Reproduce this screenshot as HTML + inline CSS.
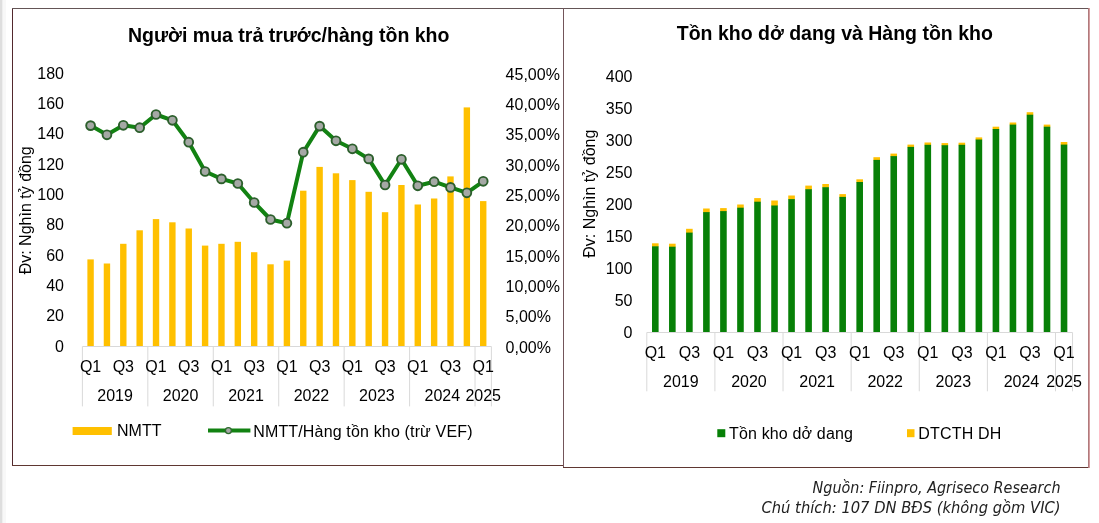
<!DOCTYPE html>
<html><head><meta charset="utf-8"><title>Charts</title>
<style>html,body{margin:0;padding:0;background:#fff;width:1099px;height:523px;overflow:hidden}</style>
</head><body>
<svg width="1099" height="523" viewBox="0 0 1099 523" style="position:absolute;left:0;top:0;will-change:transform">
<rect x="0" y="0" width="2" height="523" fill="#dedede"/>
<rect x="2" y="0" width="1" height="523" fill="#efefef"/>
<rect x="3" y="0" width="3" height="523" fill="#f8f8f8"/>
<rect x="87.38" y="259.40" width="6.4" height="86.60" fill="#FFC000"/>
<rect x="103.74" y="263.50" width="6.4" height="82.50" fill="#FFC000"/>
<rect x="120.10" y="243.80" width="6.4" height="102.20" fill="#FFC000"/>
<rect x="136.46" y="230.30" width="6.4" height="115.70" fill="#FFC000"/>
<rect x="152.82" y="219.10" width="6.4" height="126.90" fill="#FFC000"/>
<rect x="169.18" y="222.30" width="6.4" height="123.70" fill="#FFC000"/>
<rect x="185.54" y="228.50" width="6.4" height="117.50" fill="#FFC000"/>
<rect x="201.90" y="245.60" width="6.4" height="100.40" fill="#FFC000"/>
<rect x="218.26" y="243.80" width="6.4" height="102.20" fill="#FFC000"/>
<rect x="234.62" y="241.80" width="6.4" height="104.20" fill="#FFC000"/>
<rect x="250.98" y="252.20" width="6.4" height="93.80" fill="#FFC000"/>
<rect x="267.34" y="264.30" width="6.4" height="81.70" fill="#FFC000"/>
<rect x="283.70" y="260.60" width="6.4" height="85.40" fill="#FFC000"/>
<rect x="300.06" y="190.70" width="6.4" height="155.30" fill="#FFC000"/>
<rect x="316.42" y="166.90" width="6.4" height="179.10" fill="#FFC000"/>
<rect x="332.78" y="173.30" width="6.4" height="172.70" fill="#FFC000"/>
<rect x="349.14" y="180.10" width="6.4" height="165.90" fill="#FFC000"/>
<rect x="365.50" y="191.80" width="6.4" height="154.20" fill="#FFC000"/>
<rect x="381.86" y="212.20" width="6.4" height="133.80" fill="#FFC000"/>
<rect x="398.22" y="185.00" width="6.4" height="161.00" fill="#FFC000"/>
<rect x="414.58" y="204.50" width="6.4" height="141.50" fill="#FFC000"/>
<rect x="430.94" y="198.50" width="6.4" height="147.50" fill="#FFC000"/>
<rect x="447.30" y="176.40" width="6.4" height="169.60" fill="#FFC000"/>
<rect x="463.66" y="107.40" width="6.4" height="238.60" fill="#FFC000"/>
<rect x="480.02" y="201.10" width="6.4" height="144.90" fill="#FFC000"/>
<line x1="82.4" y1="346.5" x2="491.40" y2="346.5" stroke="#d9d9d9" stroke-width="1"/>
<line x1="82.40" y1="346.5" x2="82.40" y2="406.4" stroke="#d9d9d9" stroke-width="1"/>
<line x1="147.84" y1="346.5" x2="147.84" y2="406.4" stroke="#d9d9d9" stroke-width="1"/>
<line x1="213.28" y1="346.5" x2="213.28" y2="406.4" stroke="#d9d9d9" stroke-width="1"/>
<line x1="278.72" y1="346.5" x2="278.72" y2="406.4" stroke="#d9d9d9" stroke-width="1"/>
<line x1="344.16" y1="346.5" x2="344.16" y2="406.4" stroke="#d9d9d9" stroke-width="1"/>
<line x1="409.60" y1="346.5" x2="409.60" y2="406.4" stroke="#d9d9d9" stroke-width="1"/>
<line x1="475.04" y1="346.5" x2="475.04" y2="406.4" stroke="#d9d9d9" stroke-width="1"/>
<line x1="491.40" y1="346.5" x2="491.40" y2="406.4" stroke="#d9d9d9" stroke-width="1"/>
<polyline points="90.58,125.60 106.94,134.80 123.30,125.30 139.66,127.70 156.02,114.50 172.38,120.30 188.74,142.20 205.10,171.50 221.46,178.90 237.82,183.50 254.18,202.50 270.54,219.50 286.90,223.20 303.26,152.20 319.62,126.10 335.98,140.80 352.34,148.80 368.70,158.90 385.06,185.00 401.42,159.30 417.78,185.80 434.14,181.70 450.50,187.40 466.86,192.80 483.22,181.30" fill="none" stroke="#128212" stroke-width="4" stroke-linejoin="round"/>
<circle cx="90.58" cy="125.60" r="4.4" fill="#a5a8a5" stroke="#2c5f2c" stroke-width="1.9"/>
<circle cx="106.94" cy="134.80" r="4.4" fill="#a5a8a5" stroke="#2c5f2c" stroke-width="1.9"/>
<circle cx="123.30" cy="125.30" r="4.4" fill="#a5a8a5" stroke="#2c5f2c" stroke-width="1.9"/>
<circle cx="139.66" cy="127.70" r="4.4" fill="#a5a8a5" stroke="#2c5f2c" stroke-width="1.9"/>
<circle cx="156.02" cy="114.50" r="4.4" fill="#a5a8a5" stroke="#2c5f2c" stroke-width="1.9"/>
<circle cx="172.38" cy="120.30" r="4.4" fill="#a5a8a5" stroke="#2c5f2c" stroke-width="1.9"/>
<circle cx="188.74" cy="142.20" r="4.4" fill="#a5a8a5" stroke="#2c5f2c" stroke-width="1.9"/>
<circle cx="205.10" cy="171.50" r="4.4" fill="#a5a8a5" stroke="#2c5f2c" stroke-width="1.9"/>
<circle cx="221.46" cy="178.90" r="4.4" fill="#a5a8a5" stroke="#2c5f2c" stroke-width="1.9"/>
<circle cx="237.82" cy="183.50" r="4.4" fill="#a5a8a5" stroke="#2c5f2c" stroke-width="1.9"/>
<circle cx="254.18" cy="202.50" r="4.4" fill="#a5a8a5" stroke="#2c5f2c" stroke-width="1.9"/>
<circle cx="270.54" cy="219.50" r="4.4" fill="#a5a8a5" stroke="#2c5f2c" stroke-width="1.9"/>
<circle cx="286.90" cy="223.20" r="4.4" fill="#a5a8a5" stroke="#2c5f2c" stroke-width="1.9"/>
<circle cx="303.26" cy="152.20" r="4.4" fill="#a5a8a5" stroke="#2c5f2c" stroke-width="1.9"/>
<circle cx="319.62" cy="126.10" r="4.4" fill="#a5a8a5" stroke="#2c5f2c" stroke-width="1.9"/>
<circle cx="335.98" cy="140.80" r="4.4" fill="#a5a8a5" stroke="#2c5f2c" stroke-width="1.9"/>
<circle cx="352.34" cy="148.80" r="4.4" fill="#a5a8a5" stroke="#2c5f2c" stroke-width="1.9"/>
<circle cx="368.70" cy="158.90" r="4.4" fill="#a5a8a5" stroke="#2c5f2c" stroke-width="1.9"/>
<circle cx="385.06" cy="185.00" r="4.4" fill="#a5a8a5" stroke="#2c5f2c" stroke-width="1.9"/>
<circle cx="401.42" cy="159.30" r="4.4" fill="#a5a8a5" stroke="#2c5f2c" stroke-width="1.9"/>
<circle cx="417.78" cy="185.80" r="4.4" fill="#a5a8a5" stroke="#2c5f2c" stroke-width="1.9"/>
<circle cx="434.14" cy="181.70" r="4.4" fill="#a5a8a5" stroke="#2c5f2c" stroke-width="1.9"/>
<circle cx="450.50" cy="187.40" r="4.4" fill="#a5a8a5" stroke="#2c5f2c" stroke-width="1.9"/>
<circle cx="466.86" cy="192.80" r="4.4" fill="#a5a8a5" stroke="#2c5f2c" stroke-width="1.9"/>
<circle cx="483.22" cy="181.30" r="4.4" fill="#a5a8a5" stroke="#2c5f2c" stroke-width="1.9"/>
<g font-family="'Liberation Sans', Arial, sans-serif" font-size="16" fill="#000">
<text x="64" y="351.80" text-anchor="end">0</text>
<text x="64" y="321.46" text-anchor="end">20</text>
<text x="64" y="291.12" text-anchor="end">40</text>
<text x="64" y="260.78" text-anchor="end">60</text>
<text x="64" y="230.44" text-anchor="end">80</text>
<text x="64" y="200.10" text-anchor="end">100</text>
<text x="64" y="169.76" text-anchor="end">120</text>
<text x="64" y="139.42" text-anchor="end">140</text>
<text x="64" y="109.08" text-anchor="end">160</text>
<text x="64" y="78.74" text-anchor="end">180</text>
<text x="505.6" y="352.60">0,00%</text>
<text x="505.6" y="322.26">5,00%</text>
<text x="505.6" y="291.92">10,00%</text>
<text x="505.6" y="261.58">15,00%</text>
<text x="505.6" y="231.24">20,00%</text>
<text x="505.6" y="200.90">25,00%</text>
<text x="505.6" y="170.56">30,00%</text>
<text x="505.6" y="140.22">35,00%</text>
<text x="505.6" y="109.88">40,00%</text>
<text x="505.6" y="79.54">45,00%</text>
<text x="90.58" y="371.7" text-anchor="middle">Q1</text>
<text x="123.30" y="371.7" text-anchor="middle">Q3</text>
<text x="156.02" y="371.7" text-anchor="middle">Q1</text>
<text x="188.74" y="371.7" text-anchor="middle">Q3</text>
<text x="221.46" y="371.7" text-anchor="middle">Q1</text>
<text x="254.18" y="371.7" text-anchor="middle">Q3</text>
<text x="286.90" y="371.7" text-anchor="middle">Q1</text>
<text x="319.62" y="371.7" text-anchor="middle">Q3</text>
<text x="352.34" y="371.7" text-anchor="middle">Q1</text>
<text x="385.06" y="371.7" text-anchor="middle">Q3</text>
<text x="417.78" y="371.7" text-anchor="middle">Q1</text>
<text x="450.50" y="371.7" text-anchor="middle">Q3</text>
<text x="483.22" y="371.7" text-anchor="middle">Q1</text>
<text x="115.12" y="400.6" text-anchor="middle">2019</text>
<text x="180.56" y="400.6" text-anchor="middle">2020</text>
<text x="246.00" y="400.6" text-anchor="middle">2021</text>
<text x="311.44" y="400.6" text-anchor="middle">2022</text>
<text x="376.88" y="400.6" text-anchor="middle">2023</text>
<text x="442.32" y="400.6" text-anchor="middle">2024</text>
<text x="483.22" y="400.6" text-anchor="middle">2025</text>
<text transform="translate(31.2,210.3) rotate(-90)" text-anchor="middle">Đv: Nghìn tỷ đồng</text>
<rect x="72.6" y="427" width="39.2" height="8" fill="#FFC000"/>
<text x="117" y="436.3">NMTT</text>
<line x1="208" y1="430.6" x2="250.4" y2="430.6" stroke="#128212" stroke-width="4"/>
<circle cx="228.4" cy="430.6" r="3" fill="#a6a6a6" stroke="#2e6a2e" stroke-width="1.4"/>
<text x="253.2" y="436.6" textLength="219.3" lengthAdjust="spacing">NMTT/Hàng tồn kho (trừ VEF)</text>
</g>
<text x="288.7" y="41.6" text-anchor="middle" font-family="'Liberation Sans', Arial, sans-serif" font-size="19.5" font-weight="bold">Người mua trả trước/hàng tồn kho</text>
<rect x="652.01" y="243.30" width="6.6" height="3.50" fill="#FFC000"/>
<rect x="652.01" y="246.30" width="6.6" height="85.70" fill="#078007"/>
<rect x="669.04" y="243.70" width="6.6" height="3.50" fill="#FFC000"/>
<rect x="669.04" y="246.70" width="6.6" height="85.30" fill="#078007"/>
<rect x="686.08" y="228.80" width="6.6" height="4.30" fill="#FFC000"/>
<rect x="686.08" y="232.60" width="6.6" height="99.40" fill="#078007"/>
<rect x="703.11" y="208.50" width="6.6" height="4.10" fill="#FFC000"/>
<rect x="703.11" y="212.10" width="6.6" height="119.90" fill="#078007"/>
<rect x="720.13" y="208.10" width="6.6" height="3.50" fill="#FFC000"/>
<rect x="720.13" y="211.10" width="6.6" height="120.90" fill="#078007"/>
<rect x="737.16" y="204.50" width="6.6" height="3.70" fill="#FFC000"/>
<rect x="737.16" y="207.70" width="6.6" height="124.30" fill="#078007"/>
<rect x="754.20" y="198.10" width="6.6" height="4.10" fill="#FFC000"/>
<rect x="754.20" y="201.70" width="6.6" height="130.30" fill="#078007"/>
<rect x="771.23" y="200.50" width="6.6" height="5.50" fill="#FFC000"/>
<rect x="771.23" y="205.50" width="6.6" height="126.50" fill="#078007"/>
<rect x="788.25" y="195.50" width="6.6" height="4.10" fill="#FFC000"/>
<rect x="788.25" y="199.10" width="6.6" height="132.90" fill="#078007"/>
<rect x="805.29" y="185.60" width="6.6" height="4.10" fill="#FFC000"/>
<rect x="805.29" y="189.20" width="6.6" height="142.80" fill="#078007"/>
<rect x="822.32" y="184.00" width="6.6" height="3.70" fill="#FFC000"/>
<rect x="822.32" y="187.20" width="6.6" height="144.80" fill="#078007"/>
<rect x="839.35" y="194.10" width="6.6" height="3.30" fill="#FFC000"/>
<rect x="839.35" y="196.90" width="6.6" height="135.10" fill="#078007"/>
<rect x="856.38" y="179.30" width="6.6" height="3.20" fill="#FFC000"/>
<rect x="856.38" y="182.00" width="6.6" height="150.00" fill="#078007"/>
<rect x="873.40" y="157.20" width="6.6" height="3.20" fill="#FFC000"/>
<rect x="873.40" y="159.90" width="6.6" height="172.10" fill="#078007"/>
<rect x="890.43" y="153.60" width="6.6" height="3.00" fill="#FFC000"/>
<rect x="890.43" y="156.10" width="6.6" height="175.90" fill="#078007"/>
<rect x="907.47" y="144.60" width="6.6" height="2.80" fill="#FFC000"/>
<rect x="907.47" y="146.90" width="6.6" height="185.10" fill="#078007"/>
<rect x="924.50" y="142.50" width="6.6" height="2.80" fill="#FFC000"/>
<rect x="924.50" y="144.80" width="6.6" height="187.20" fill="#078007"/>
<rect x="941.53" y="143.10" width="6.6" height="2.60" fill="#FFC000"/>
<rect x="941.53" y="145.20" width="6.6" height="186.80" fill="#078007"/>
<rect x="958.56" y="142.70" width="6.6" height="2.60" fill="#FFC000"/>
<rect x="958.56" y="144.80" width="6.6" height="187.20" fill="#078007"/>
<rect x="975.59" y="137.40" width="6.6" height="2.60" fill="#FFC000"/>
<rect x="975.59" y="139.50" width="6.6" height="192.50" fill="#078007"/>
<rect x="992.62" y="126.70" width="6.6" height="2.80" fill="#FFC000"/>
<rect x="992.62" y="129.00" width="6.6" height="203.00" fill="#078007"/>
<rect x="1009.64" y="122.50" width="6.6" height="2.60" fill="#FFC000"/>
<rect x="1009.64" y="124.60" width="6.6" height="207.40" fill="#078007"/>
<rect x="1026.67" y="112.20" width="6.6" height="3.00" fill="#FFC000"/>
<rect x="1026.67" y="114.70" width="6.6" height="217.30" fill="#078007"/>
<rect x="1043.71" y="124.60" width="6.6" height="2.60" fill="#FFC000"/>
<rect x="1043.71" y="126.70" width="6.6" height="205.30" fill="#078007"/>
<rect x="1060.73" y="142.00" width="6.6" height="3.10" fill="#FFC000"/>
<rect x="1060.73" y="144.60" width="6.6" height="187.40" fill="#078007"/>
<line x1="646.8" y1="332.5" x2="1072.55" y2="332.5" stroke="#d9d9d9" stroke-width="1"/>
<line x1="646.80" y1="332.5" x2="646.80" y2="391.3" stroke="#d9d9d9" stroke-width="1"/>
<line x1="714.92" y1="332.5" x2="714.92" y2="391.3" stroke="#d9d9d9" stroke-width="1"/>
<line x1="783.04" y1="332.5" x2="783.04" y2="391.3" stroke="#d9d9d9" stroke-width="1"/>
<line x1="851.16" y1="332.5" x2="851.16" y2="391.3" stroke="#d9d9d9" stroke-width="1"/>
<line x1="919.28" y1="332.5" x2="919.28" y2="391.3" stroke="#d9d9d9" stroke-width="1"/>
<line x1="987.40" y1="332.5" x2="987.40" y2="391.3" stroke="#d9d9d9" stroke-width="1"/>
<line x1="1055.52" y1="332.5" x2="1055.52" y2="391.3" stroke="#d9d9d9" stroke-width="1"/>
<line x1="1072.55" y1="332.5" x2="1072.55" y2="391.3" stroke="#d9d9d9" stroke-width="1"/>
<g font-family="'Liberation Sans', Arial, sans-serif" font-size="16" fill="#000">
<text x="632.5" y="337.80" text-anchor="end">0</text>
<text x="632.5" y="305.80" text-anchor="end">50</text>
<text x="632.5" y="273.80" text-anchor="end">100</text>
<text x="632.5" y="241.80" text-anchor="end">150</text>
<text x="632.5" y="209.80" text-anchor="end">200</text>
<text x="632.5" y="177.80" text-anchor="end">250</text>
<text x="632.5" y="145.80" text-anchor="end">300</text>
<text x="632.5" y="113.80" text-anchor="end">350</text>
<text x="632.5" y="81.80" text-anchor="end">400</text>
<text x="655.31" y="357.5" text-anchor="middle">Q1</text>
<text x="689.38" y="357.5" text-anchor="middle">Q3</text>
<text x="723.43" y="357.5" text-anchor="middle">Q1</text>
<text x="757.50" y="357.5" text-anchor="middle">Q3</text>
<text x="791.55" y="357.5" text-anchor="middle">Q1</text>
<text x="825.62" y="357.5" text-anchor="middle">Q3</text>
<text x="859.67" y="357.5" text-anchor="middle">Q1</text>
<text x="893.73" y="357.5" text-anchor="middle">Q3</text>
<text x="927.79" y="357.5" text-anchor="middle">Q1</text>
<text x="961.86" y="357.5" text-anchor="middle">Q3</text>
<text x="995.91" y="357.5" text-anchor="middle">Q1</text>
<text x="1029.97" y="357.5" text-anchor="middle">Q3</text>
<text x="1064.03" y="357.5" text-anchor="middle">Q1</text>
<text x="680.86" y="386.8" text-anchor="middle">2019</text>
<text x="748.98" y="386.8" text-anchor="middle">2020</text>
<text x="817.10" y="386.8" text-anchor="middle">2021</text>
<text x="885.22" y="386.8" text-anchor="middle">2022</text>
<text x="953.34" y="386.8" text-anchor="middle">2023</text>
<text x="1021.46" y="386.8" text-anchor="middle">2024</text>
<text x="1064.03" y="386.8" text-anchor="middle">2025</text>
<text transform="translate(594.8,193.7) rotate(-90)" text-anchor="middle">Đv: Nghìn tỷ đồng</text>
<rect x="717.3" y="429.2" width="8" height="8" fill="#078007"/>
<text x="729" y="438.7" textLength="123.9" lengthAdjust="spacing">Tồn kho dở dang</text>
<rect x="907" y="429.2" width="7.5" height="8" fill="#FFC000"/>
<text x="918.3" y="438.7" textLength="83" lengthAdjust="spacing">DTCTH DH</text>
</g>
<text x="834.8" y="39.6" text-anchor="middle" font-family="'Liberation Sans', Arial, sans-serif" font-size="19.5" font-weight="bold">Tồn kho dở dang và Hàng tồn kho</text>
<rect x="12" y="8" width="1" height="458" fill="#52282d"/>
<rect x="12" y="8" width="1077" height="1" fill="#645556"/>
<rect x="12" y="465" width="552" height="1" fill="#5f3732"/>
<rect x="563" y="8" width="1" height="460" fill="#73555a"/>
<rect x="563" y="467" width="527" height="1" fill="#5f3732"/>
<rect x="1088" y="8" width="1" height="460" fill="#b07a7c"/>
<rect x="1089" y="8" width="1" height="460" fill="#d59ea0"/>
<text x="1060.5" y="492.5" text-anchor="end" font-family="'DejaVu Sans', Verdana, sans-serif" font-style="italic" font-size="15" fill="#222" textLength="248" lengthAdjust="spacingAndGlyphs">Nguồn: Fiinpro, Agriseco Research</text>
<text x="1060.5" y="512.5" text-anchor="end" font-family="'DejaVu Sans', Verdana, sans-serif" font-style="italic" font-size="15" fill="#222" textLength="299" lengthAdjust="spacingAndGlyphs">Chú thích: 107 DN BĐS (không gồm VIC)</text>
</svg>
</body></html>
